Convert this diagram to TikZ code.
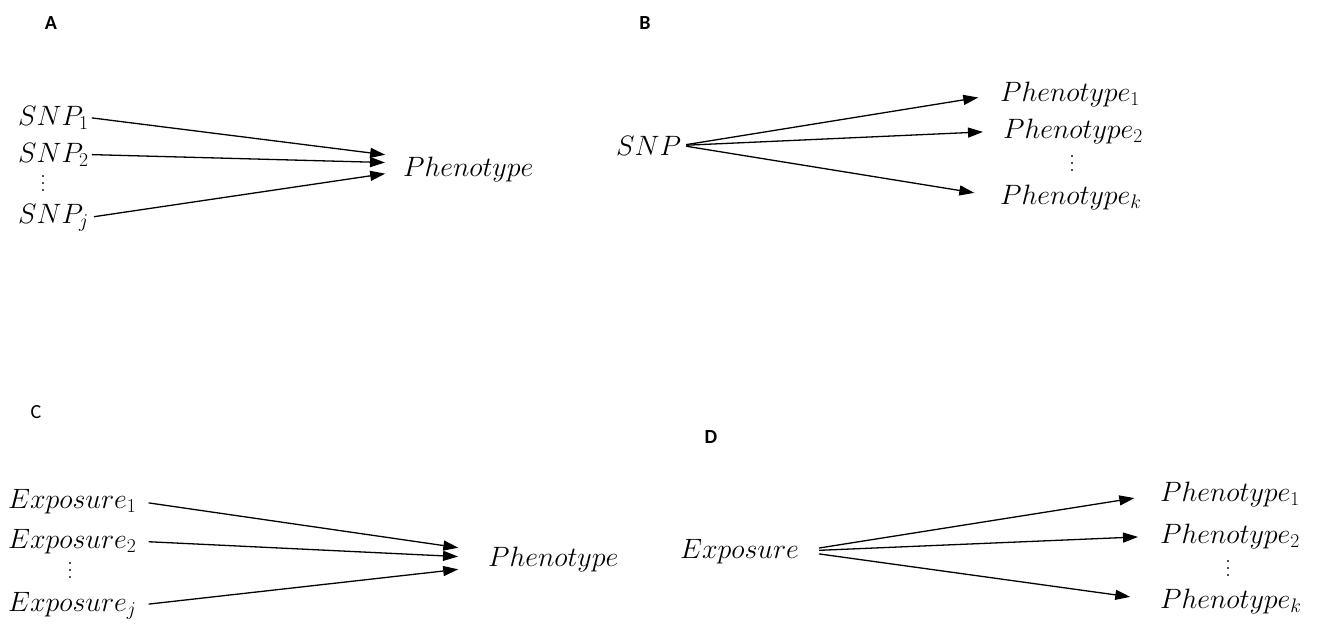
\RequirePackage{fix-cm}
\documentclass[tikz,border=0pt]{standalone}
\usepackage{fontspec}
\newfontfamily\labelfont{Carlito}
\usetikzlibrary{arrows.meta,calc}
% three stacked dots, spaced to suit the large type
\newcommand\bigvdots{\vbox{\baselineskip=7pt\lineskiplimit=0pt\hbox{.}\hbox{.}\hbox{.}}}
\begin{document}
\begin{tikzpicture}[x=1pt,y=-1pt,
  var/.style={inner sep=0pt, anchor=base west, font=\fontsize{28}{32}\selectfont},
  dots/.style={inner sep=0pt, font=\fontsize{24}{28}\selectfont},
  panel/.style={inner sep=0pt, font=\labelfont\bfseries\fontsize{20}{24}\selectfont},
  link/.style={line width=1.3pt, -{Triangle[length=15pt,width=10pt]}}]
\useasboundingbox (0,0) rectangle (1334,633);

% Panel A: several SNPs -> one phenotype
\node[panel] (lA) at (51,23) {A};
\node[var] (a1) at (18,125) {$SNP_1$};
\node[var] (a2) at (18,162) {$SNP_2$};
\node[dots] (ad) at (43,184) {\bigvdots};
\node[var] (aj) at (18,223) {$SNP_j$};
\node[var] (aph) at (403,176) {$Phenotype$};
\draw[link, shorten <=3pt, shorten >=18pt] (a1.east) -- ($(aph.west)+(0,-12)$);
\draw[link, shorten <=3pt, shorten >=18pt] (a2.east) -- ($(aph.west)+(0,-6)$);
\draw[link, shorten <=5pt, shorten >=18pt] (aj.east) -- ($(aph.west)+(0,2)$);

% Panel B: one SNP -> several phenotypes
\node[panel] (lB) at (645,23) {B};
\node[var] (bs) at (616,155) {$SNP$};
\node[var] (b1) at (1000,101) {$Phenotype_1$};
\node[var] (b2) at (1003,138) {$Phenotype_2$};
\node[dots] (bd) at (1072,164) {\bigvdots};
\node[var] (bk) at (1000,204) {$Phenotype_k$};
\draw[link, shorten <=5pt, shorten >=22pt] (bs.east) -- (b1.west);
\draw[link, shorten <=5pt, shorten >=20pt] (bs.east) -- (b2.west);
\draw[link, shorten <=5pt, shorten >=26pt] (bs.east) -- (bk.west);

% Panel C: several exposures -> one phenotype
\node[panel, font=\labelfont\fontsize{20}{24}\selectfont] (lC) at (36,412) {C};
\node[var] (c1) at (8,508) {$Exposure_1$};
\node[var] (c2) at (8,548) {$Exposure_2$};
\node[dots] (cd) at (70,571) {\bigvdots};
\node[var] (cj) at (8,611) {$Exposure_j$};
\node[var] (cph) at (488,566) {$Phenotype$};
\draw[link, shorten <=12pt, shorten >=30pt] (c1.east) -- ($(cph.west)+(0,-7)$);
\draw[link, shorten <=12pt, shorten >=30pt] (c2.east) -- ($(cph.west)+(0,-1)$);
\draw[link, shorten <=12pt, shorten >=30pt] (cj.east) -- ($(cph.west)+(0,7)$);

% Panel D: one exposure -> several phenotypes
\node[panel] (lD) at (711,437) {D};
\node[var] (ds) at (680,558) {$Exposure$};
\node[var] (d1) at (1160,501) {$Phenotype_1$};
\node[var] (d2) at (1160,543) {$Phenotype_2$};
\node[dots] (dd) at (1228,569) {\bigvdots};
\node[var] (dk) at (1160,608) {$Phenotype_k$};
\draw[link, shorten <=20pt, shorten >=26pt] (ds.east) -- (d1.west);
\draw[link, shorten <=20pt, shorten >=22pt] (ds.east) -- (d2.west);
\draw[link, shorten <=20pt, shorten >=30pt] (ds.east) -- (dk.west);
\end{tikzpicture}
\end{document}
